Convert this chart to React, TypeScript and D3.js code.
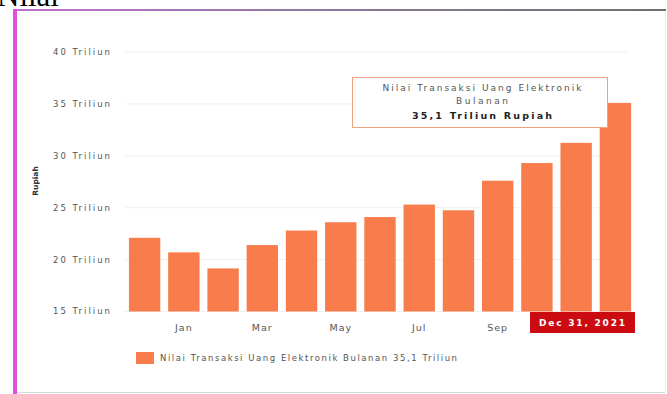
import React from "react";
import * as d3 from "d3";

const months = ["Dec 2020", "Jan", "Feb", "Mar", "Apr", "May", "Jun", "Jul", "Aug", "Sep", "Oct", "Nov", "Dec"];
const values = [22.1, 20.7, 19.15, 21.4, 22.8, 23.6, 24.1, 25.3, 24.75, 27.6, 29.3, 31.25, 35.1];
const tickValues = [15, 20, 25, 30, 35, 40];
const xLabels = ["Jan", "Mar", "May", "Jul", "Sep"];
const tooltipLines = ["Nilai Transaksi Uang Elektronik", "Bulanan", "35,1 Triliun Rupiah"];
const legendText = "Nilai Transaksi Uang Elektronik Bulanan  35,1 Triliun";
const dateLabel = "Dec 31, 2021";

const W = 667;
const H = 394;
const BAR = "#f97d4c";
const FONT = "'DejaVu Sans', 'Liberation Sans', sans-serif";

export default function App() {
  const x = d3.scaleBand<string>().domain(months).range([125, 635]).paddingInner(0.2).paddingOuter(0.1);
  const y = d3.scaleLinear().domain([15, 40]).range([311.5, 52]);

  return (
    <svg width={W} height={H} style={{ position: "absolute", left: 0, top: 0, background: "#fff" }}>
      <defs>
        <linearGradient id="topline" x1="0" x2="1" y1="0" y2="0">
          <stop offset="0" stopColor="#c070d0" />
          <stop offset="0.5" stopColor="#8a7a9a" />
          <stop offset="1" stopColor="#707070" />
        </linearGradient>
      </defs>
      {/* cut-off document text */}
      <text x={-3} y={6} fontFamily="'Liberation Serif', 'DejaVu Serif', serif" fontSize={31} fill="#000">Nilai</text>
      {/* frame */}
      <rect x={16} y={9} width={650} height={2} fill="url(#topline)" />
      <rect x={13} y={9} width={4} height={H - 9} fill="#e04ee0" />
      <line x1={17} x2={666} y1={392.5} y2={392.5} stroke="#d8d8d8" strokeWidth={1} />
      <line x1={665.5} x2={665.5} y1={11} y2={393} stroke="#eeeeee" strokeWidth={1} />

      {/* gridlines */}
      {tickValues.map((t) => (
        <line key={"g" + t} x1={125} x2={628} y1={y(t)} y2={y(t)} stroke="#f0f0f0" strokeWidth={1} />
      ))}
      {/* y tick labels */}
      {tickValues.map((t) => (
        <text key={"t" + t} x={53} y={y(t)} dy="0.35em" fontFamily={FONT} fontSize={8.5} fill="#555" textLength={57} lengthAdjust="spacing">
          {t} Triliun
        </text>
      ))}
      <text
        transform={`translate(38,181) rotate(-90)`}
        textAnchor="middle"
        fontFamily={FONT}
        fontSize={7.5}
        fontWeight="bold"
        fill="#333"
      >
        Rupiah
      </text>

      {/* bars */}
      {months.map((m, i) => (
        <rect key={m} x={x(m)} y={y(values[i])} width={x.bandwidth()} height={y(15) - y(values[i])} fill={BAR} />
      ))}

      {/* x labels */}
      {xLabels.map((m) => (
        <text key={"x" + m} x={(x(m) as number) + x.bandwidth() / 2} y={328} dy="0.35em" textAnchor="middle" fontFamily={FONT} fontSize={9.5} fill="#555" letterSpacing={1}>
          {m}
        </text>
      ))}

      {/* date label */}
      <rect x={530} y={312} width={105} height={21} fill="#cc0a12" />
      <text x={582} y={322.5} dy="0.35em" textAnchor="middle" fontFamily={FONT} fontSize={9} fontWeight="bold" fill="#fff" textLength={86} lengthAdjust="spacing">
        {dateLabel}
      </text>

      {/* tooltip */}
      <rect x={352.5} y={77.5} width={255} height={50} fill="#fff" stroke="#f0a080" strokeWidth={1} />
      <text x={482} y={88} dy="0.35em" textAnchor="middle" fontFamily={FONT} fontSize={9} fill="#555" textLength={199} lengthAdjust="spacing">{tooltipLines[0]}</text>
      <text x={482} y={100.5} dy="0.35em" textAnchor="middle" fontFamily={FONT} fontSize={9} fill="#555" textLength={52} lengthAdjust="spacing">{tooltipLines[1]}</text>
      <text x={482} y={116} dy="0.35em" textAnchor="middle" fontFamily={FONT} fontSize={9.5} fontWeight="bold" fill="#222" textLength={140} lengthAdjust="spacing">{tooltipLines[2]}</text>

      {/* legend */}
      <rect x={136} y={352} width={18} height={12} fill={BAR} />
      <text x={160} y={358} dy="0.35em" fontFamily={FONT} fontSize={8.5} fill="#555" textLength={297} lengthAdjust="spacing">{legendText}</text>
    </svg>
  );
}
